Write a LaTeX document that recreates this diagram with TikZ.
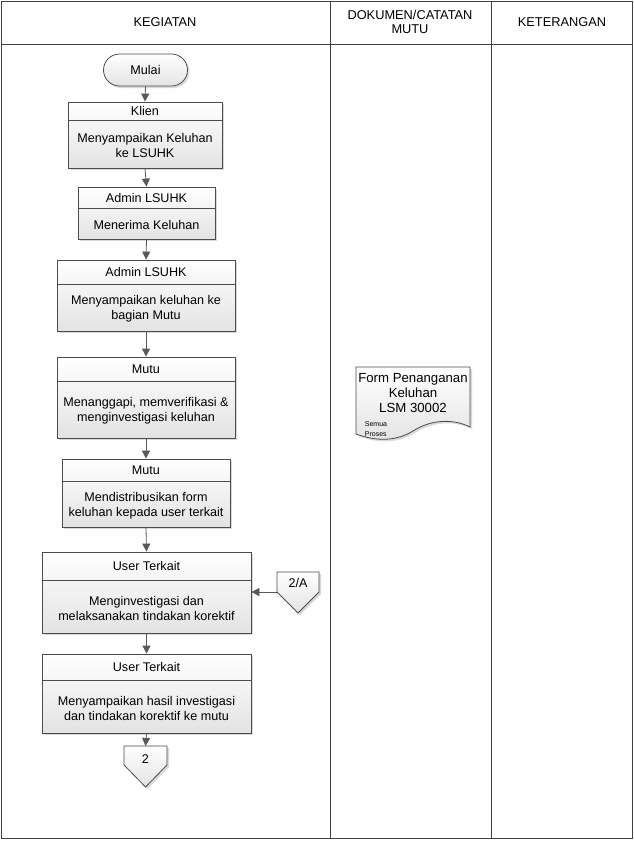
\documentclass[tikz,border=0pt]{standalone}
\usepackage{fontspec}
\setmainfont{Liberation Sans}
\usetikzlibrary{shadows,arrows.meta,shapes.misc}
\tikzset{
  boxst/.style={draw=black!70, line width=0.8pt, top color=white, bottom color=black!11,
    drop shadow={shadow xshift=2pt, shadow yshift=-2pt, opacity=0.3}},
  txt/.style={font=\fontsize{12.6}{15}\selectfont, align=center, inner sep=0pt},
  doctxt/.style={font=\fontsize{13.2}{15}\selectfont, align=center, inner sep=0pt},
  hdr/.style={font=\fontsize{12.8}{14}\selectfont, align=center, inner sep=0pt},
  small/.style={font=\fontsize{7}{10}\selectfont, align=left, inner sep=0pt},
  arr/.style={draw=black!65, line width=0.8pt, -{Triangle[length=8pt,width=8pt]}},
  frame/.style={draw=black!75, line width=1pt}
}
\newcommand{\pbox}[8]{%
  \node[boxst, rectangle, inner sep=0pt, minimum width={(#4-#2)*1pt}, minimum height={(#5-#3)*1pt}]
     (#1) at ({(#2+#4)/2},{(#3+#5)/2}) {};
  \draw[draw=black!70, line width=0.8pt] (#1.west |- 0,#6) -- (#1.east |- 0,#6);
  \node[txt] (#1-t) at ({(#2+#4)/2},{(#3+#6)/2}) {#7};
  \node[txt] (#1-b) at ({(#2+#4)/2},{(#6+#5)/2+1.5}) {#8};
}
\begin{document}
\begin{tikzpicture}[x=1pt,y=-1pt]
\useasboundingbox (0,0) rectangle (634,844);
% table frame
\draw[frame] (1.5,1.5) rectangle (632.5,838.5);
\draw[frame] (1.5,44) -- (632.5,44);
\draw[frame] (330,1.5) -- (330,838.5);
\draw[frame] (491,1.5) -- (491,838.5);
\node[hdr] (h1) at (165,22) {KEGIATAN};
\node[hdr] (h2) at (410,22) {DOKUMEN/CATATAN\\MUTU};
\node[hdr] (h3) at (562,22) {KETERANGAN};
% start
\node[boxst, rounded rectangle, inner sep=0pt, minimum width=84pt, minimum height=32pt, txt]
  (mulai) at (145.5,70) {Mulai};
% process boxes
\pbox{klien}{68}{102}{222}{168}{120}{Klien}{Menyampaikan Keluhan\\ke LSUHK}
\pbox{adm1}{78}{187}{215}{239}{208}{Admin LSUHK}{Menerima Keluhan}
\pbox{adm2}{57}{260}{235}{331}{284}{Admin LSUHK}{Menyampaikan keluhan ke\\bagian Mutu}
\pbox{mutu1}{57}{357}{235}{438}{381}{Mutu}{Menanggapi, memverifikasi \&\\menginvestigasi keluhan}
\pbox{mutu2}{62}{459}{230}{527}{481}{Mutu}{Mendistribusikan form\\keluhan kepada user terkait}
\pbox{ut1}{42}{552}{251}{633}{580}{User Terkait}{Menginvestigasi dan\\melaksanakan tindakan korektif}
\pbox{ut2}{42}{654}{251}{733}{680}{User Terkait}{Menyampaikan hasil investigasi\\dan tindakan korektif ke mutu}
% off-page connector 2/A
\path[boxst] (277,572) -- (319,572) -- (319,592) -- (298,613) -- (277,592) -- cycle;
\node[txt] (offA) at (298,583) {2/A};
\coordinate (offAin) at (277,592);
% off-page connector 2
\path[boxst] (124,746) -- (167,746) -- (167,765) -- (145.5,787) -- (124,765) -- cycle;
\node[txt] (off2) at (145.5,759) {2};
\coordinate (off2in) at (145.5,746);
% document
\path[boxst] (356,367) -- (470,367) -- (470,427)
  .. controls (452,418) and (430,420) .. (413,431)
  .. controls (395,442) and (375,441) .. (356,434) -- cycle;
\node[doctxt] (doc) at (413,393) {Form Penanganan\\Keluhan\\LSM 30002};
\node[small] (doc-s) at (376,429) {Semua\\Proses};
% connectors
\draw[arr] (mulai.south) -- (klien.north);
\draw[arr] (klien.south) -- (adm1.north);
\draw[arr] (adm1.south) -- (adm2.north);
\draw[arr] (adm2.south) -- (mutu1.north);
\draw[arr] (mutu1.south) -- (mutu2.north);
\draw[arr] (mutu2.south) -- (ut1.north);
\draw[arr] (ut1.south) -- (ut2.north);
\draw[arr] (ut2.south) -- (off2in);
\draw[arr] (offAin) -- (ut1.east |- offAin);
\end{tikzpicture}
\end{document}
